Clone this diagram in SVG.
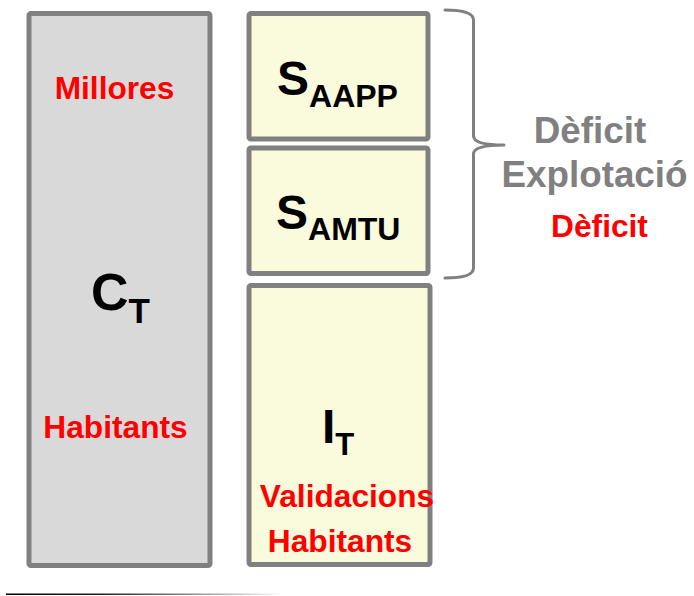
<svg xmlns="http://www.w3.org/2000/svg" width="694" height="596" viewBox="0 0 694 596">
  <style>
    text { font-family: "Liberation Sans", Arial, sans-serif; font-weight: bold; }
    .box { stroke: #808080; stroke-width: 5; }
    .cost { fill: #d9d9d9; }
    .part { fill: #fafadc; }
    .red { fill: #ff0000; font-size: 31.7px; text-anchor: middle; }
    .grey { fill: #808080; font-size: 36.8px; text-anchor: middle; }
    .sym { fill: #000000; }
    .brace { fill: none; stroke: #808080; stroke-width: 3; stroke-linejoin: round; stroke-linecap: round; }
  </style>
  <defs>
    <linearGradient id="rule" x1="0" y1="0" x2="1" y2="0">
      <stop offset="0" stop-color="#000000"/>
      <stop offset="0.35" stop-color="#222222"/>
      <stop offset="1" stop-color="#ffffff"/>
    </linearGradient>
  </defs>

  <!-- Total cost column -->
  <g id="cost-total">
    <rect class="box cost" x="29" y="13.5" width="181" height="552" rx="2"/>
    <text class="red" x="114.5" y="99">Millores</text>
    <text class="sym" x="91" y="310" font-size="52">C<tspan font-size="35" dy="12.5">T</tspan></text>
    <text class="red" x="115.5" y="438">Habitants</text>
  </g>

  <!-- Public administration subsidy -->
  <g id="subsidy-aapp">
    <rect class="box part" x="249" y="13.5" width="179" height="125.5" rx="2"/>
    <text class="sym" x="277" y="95" font-size="48">S<tspan font-size="32" dy="12">AAPP</tspan></text>
  </g>

  <!-- AMTU subsidy -->
  <g id="subsidy-amtu">
    <rect class="box part" x="249" y="148" width="179" height="125.5" rx="2"/>
    <text class="sym" x="276" y="229" font-size="48">S<tspan font-size="32" dy="11">AMTU</tspan></text>
  </g>

  <!-- Revenue column -->
  <g id="income">
    <rect class="box part" x="249" y="285.5" width="181" height="279" rx="2"/>
    <text class="sym" x="322" y="443" font-size="48">I<tspan font-size="31" dy="12">T</tspan></text>
    <text class="red" x="347" y="507">Validacions</text>
    <text class="red" x="340" y="552">Habitants</text>
  </g>

  <!-- Deficit brace and labels -->
  <g id="connectors">
    <path class="brace" d="M445,10 Q473.5,10 473.5,20 V136 Q473.5,145 504,145 Q473.5,145 473.5,154 V268 Q473.5,278 445,278"/>
  </g>
  <g id="deficit">
    <text class="grey" x="590" y="143">Dèficit</text>
    <text class="grey" x="594.5" y="187">Explotació</text>
    <text class="red" x="599.5" y="237">Dèficit</text>
  </g>

  <!-- Footer rule -->
  <rect x="6" y="593.5" width="278" height="1.5" fill="url(#rule)"/>
</svg>
